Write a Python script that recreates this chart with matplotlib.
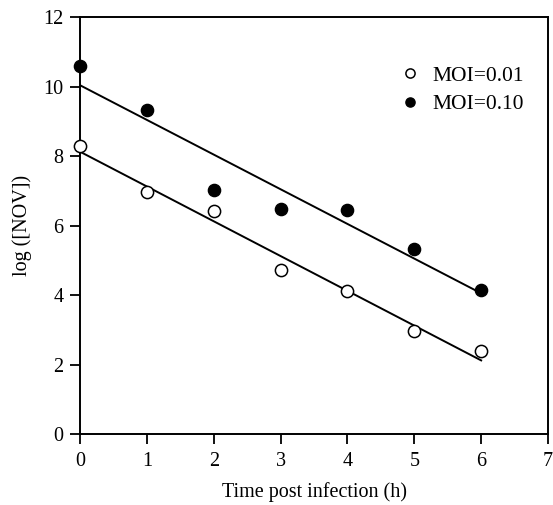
import numpy as np
import matplotlib.pyplot as plt

# Virus titre after infection at two multiplicities of infection
hours = [0, 1, 2, 3, 4, 5, 6]
log_nov_low = [8.29, 6.97, 6.42, 4.72, 4.11, 2.97, 2.38]    # MOI=0.01
log_nov_high = [10.60, 9.32, 7.02, 6.47, 6.45, 5.32, 4.14]  # MOI=0.10

x_ticks = [0, 1, 2, 3, 4, 5, 6, 7]
y_ticks = [0, 2, 4, 6, 8, 10, 12]

plt.rcParams['font.family'] = ['Liberation Serif', 'DejaVu Serif']

fig = plt.figure(figsize=(5.53, 5.05), dpi=100)
ax = fig.add_axes([0.1447, 0.1406, 0.8463, 0.8254])

t = np.array(hours)
for values in (log_nov_low, log_nov_high):
    slope, icpt = np.polyfit(t, values, 1)
    ax.plot(t, slope * t + icpt, color='black', lw=1.4, zorder=2)

ax.plot(hours, log_nov_low, 'o', ms=8.8, mfc='white', mec='black', mew=1.1,
        ls='none', label='MOI=0.01', zorder=4, clip_on=False)
ax.plot(hours, log_nov_high, 'o', ms=8.8, mfc='black', mec='black',
        ls='none', label='MOI=0.10', zorder=4, clip_on=False)

ax.set_xlim(0, 7)
ax.set_ylim(0, 12)
ax.set_xticks(x_ticks)
ax.set_yticks(y_ticks)
ax.tick_params(direction='out', length=7, width=1.3, labelsize=14.5,
               top=False, right=False)
ax.tick_params(axis='x', pad=6)
ax.tick_params(axis='y', pad=5)
for s in ax.spines.values():
    s.set_linewidth(1.4)

ax.set_xlabel('Time post infection (h)', fontsize=14.5, labelpad=8)
ax.set_ylabel('log ([NOV])', fontsize=14.5, labelpad=8)

ax.legend(loc='upper right', bbox_to_anchor=(0.99, 0.93), frameon=False,
          fontsize=15.5, markerscale=0.75, handletextpad=0.45, labelspacing=0.4,
          handlelength=1.2)

fig.savefig('out.png', dpi=100)
